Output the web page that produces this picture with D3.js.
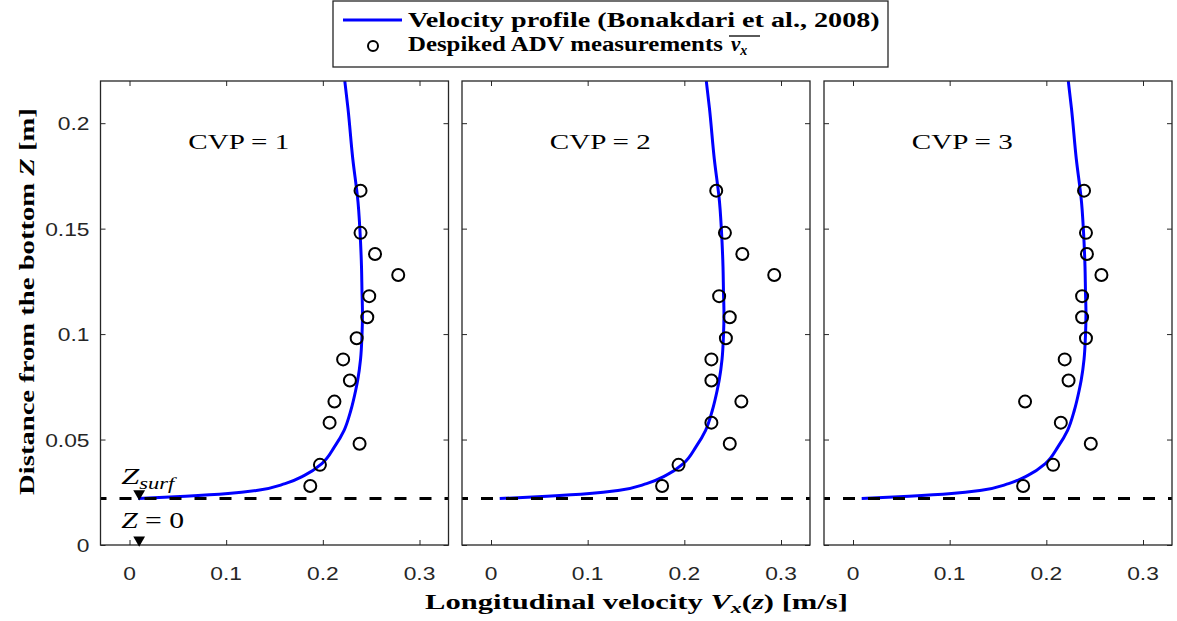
<!DOCTYPE html>
<html>
<head>
<meta charset="utf-8">
<script src="https://cdn.jsdelivr.net/npm/d3@7"></script>
<style>
  body { margin: 0; background: #fff; }
  .tick-lab { font-family: "Liberation Sans", Arial, sans-serif; font-size: 19px; fill: #262626; }
  .tex { font-family: "Liberation Serif", serif; fill: #000; }
</style>
</head>
<body>
<div id="chart"></div>
<script>
// Declare constants
const WIDTH = 1177;
const HEIGHT = 621;
const PANEL_LEFT = [100.5, 462, 824];
const PANEL_W = 348;
const PLOT_TOP = 81;
const PLOT_BOTTOM = 545;

// Data
const panelNames = ["CVP = 1", "CVP = 2", "CVP = 3"];
const zLevels = [0.168, 0.148, 0.138, 0.128, 0.118, 0.108, 0.098, 0.088, 0.078, 0.068, 0.058, 0.048, 0.038, 0.028];
const advCVP1 = [0.239, 0.239, 0.254, 0.278, 0.248, 0.246, 0.235, 0.221, 0.228, 0.212, 0.207, 0.238, 0.197, 0.187];
const advCVP2 = [0.233, 0.242, 0.260, 0.293, 0.236, 0.247, 0.243, 0.228, 0.228, 0.259, 0.228, 0.247, 0.194, 0.177];
const advCVP3 = [0.239, 0.241, 0.242, 0.257, 0.237, 0.237, 0.241, 0.219, 0.223, 0.178, 0.215, 0.246, 0.207, 0.176];
const advSeries = [advCVP1, advCVP2, advCVP3];

// Bonakdari et al. (2008) profile, same in the three panels
const profileV = [0.009, 0.058, 0.102, 0.133, 0.161, 0.181, 0.199, 0.212, 0.222, 0.229, 0.234, 0.236, 0.239, 0.2405, 0.241, 0.2405, 0.240, 0.239, 0.2364, 0.231, 0.226, 0.2227];
const profileZ = [0.022, 0.0231, 0.0244, 0.026, 0.0291, 0.033, 0.0386, 0.0465, 0.0544, 0.0639, 0.0734, 0.078, 0.088, 0.0994, 0.110, 0.120, 0.132, 0.1437, 0.1626, 0.183, 0.207, 0.22];

const zSurf = 0.022;
const markerV = 0.01;
const xTicks = [0, 0.1, 0.2, 0.3];
const yTicks = [0, 0.05, 0.1, 0.15, 0.2];
const xDomain = [-0.03, 0.33];
const yDomain = [0, 0.22];

const svg = d3.select("#chart").append("svg")
  .attr("width", WIDTH)
  .attr("height", HEIGHT);

svg.append("rect").attr("width", WIDTH).attr("height", HEIGHT).attr("fill", "#fff");

const y = d3.scaleLinear().domain(yDomain).range([PLOT_BOTTOM, PLOT_TOP]);

// squeeze/stretch a text horizontally to a width measured on the figure
function fitWidth(text, target) {
  const w = text.node().getComputedTextLength();
  return target / w;
}

PANEL_LEFT.forEach((left, i) => {
  const x = d3.scaleLinear().domain(xDomain).range([left, left + PANEL_W]);
  const g = svg.append("g");

  g.append("clipPath").attr("id", "clip" + i)
    .append("rect")
    .attr("x", left).attr("y", PLOT_TOP)
    .attr("width", PANEL_W).attr("height", PLOT_BOTTOM - PLOT_TOP);

  // axes, ticks pointing inward, mirrored on all sides
  const tickStyle = a => a.call(s => s.select(".domain").remove())
    .call(s => s.selectAll("line").attr("stroke", "#262626").attr("stroke-width", 1));
  g.append("g").attr("transform", `translate(0,${PLOT_BOTTOM})`)
    .call(d3.axisTop(x).tickValues(xTicks).tickSize(5).tickFormat("")).call(tickStyle);
  g.append("g").attr("transform", `translate(0,${PLOT_TOP})`)
    .call(d3.axisBottom(x).tickValues(xTicks).tickSize(5).tickFormat("")).call(tickStyle);
  g.append("g").attr("transform", `translate(${left},0)`)
    .call(d3.axisRight(y).tickValues(yTicks).tickSize(5).tickFormat("")).call(tickStyle);
  g.append("g").attr("transform", `translate(${left + PANEL_W},0)`)
    .call(d3.axisLeft(y).tickValues(yTicks).tickSize(5).tickFormat("")).call(tickStyle);

  // x tick labels
  g.selectAll(".xlab").data(xTicks).join("text")
    .attr("class", "tick-lab")
    .attr("text-anchor", "middle")
    .attr("transform", d => `translate(${x(d)},${PLOT_BOTTOM + 35}) scale(1.2,1)`)
    .text(d => d3.format("")(d));

  if (i === 0) {
    g.selectAll(".ylab").data(yTicks).join("text")
      .attr("class", "tick-lab")
      .attr("text-anchor", "end")
      .attr("transform", d => `translate(${left - 11},${y(d) + 7}) scale(1.2,1)`)
      .text(d => d3.format("")(d));
  }

  // velocity profile
  const line = d3.line().x((d, k) => x(profileV[k])).y(d => y(d)).curve(d3.curveMonotoneY);
  g.append("path")
    .attr("clip-path", `url(#clip${i})`)
    .attr("d", line(profileZ))
    .attr("fill", "none")
    .attr("stroke", "#0000ff")
    .attr("stroke-width", 3);

  // bed level
  g.append("line")
    .attr("x1", left).attr("x2", left + PANEL_W)
    .attr("y1", y(zSurf)).attr("y2", y(zSurf))
    .attr("stroke", "#000")
    .attr("stroke-width", 3)
    .attr("stroke-dasharray", "12,13")
    .attr("stroke-dashoffset", 6);

  // ADV points
  g.selectAll("circle").data(zLevels).join("circle")
    .attr("cx", (d, k) => x(advSeries[i][k]))
    .attr("cy", d => y(d))
    .attr("r", 6)
    .attr("fill", "none")
    .attr("stroke", "#000")
    .attr("stroke-width", 2);

  // panel name
  const t = g.append("text").attr("class", "tex")
    .attr("font-size", 21)
    .attr("text-anchor", "middle")
    .text(panelNames[i]);
  t.attr("transform", `translate(${x(0.113)},${y(0.1876)}) scale(${fitWidth(t, 101)},1)`);

  // frame
  g.append("rect")
    .attr("x", left).attr("y", PLOT_TOP)
    .attr("width", PANEL_W).attr("height", PLOT_BOTTOM - PLOT_TOP)
    .attr("fill", "none").attr("stroke", "#262626").attr("stroke-width", 1.3);

  if (i === 0) {
    const tri = d3.symbol().type(d3.symbolTriangle).size(60);
    [zSurf, 0].forEach(z => {
      g.append("path")
        .attr("d", tri())
        .attr("transform", `translate(${x(markerV)},${y(z) - 5}) rotate(180)`)
        .attr("fill", "#000");
    });
    const zs = g.append("text").attr("class", "tex").attr("font-size", 23).attr("font-style", "italic");
    zs.append("tspan").text("Z");
    zs.append("tspan").attr("font-size", 16).attr("dy", 5).text("surf");
    zs.attr("transform", `translate(${x(markerV) - 18},${y(zSurf) - 15}) scale(${fitWidth(zs, 53)},1)`);
    const z0 = g.append("text").attr("class", "tex").attr("font-size", 23);
    z0.append("tspan").attr("font-style", "italic").text("Z");
    z0.append("tspan").text(" = 0");
    z0.attr("transform", `translate(${x(markerV) - 18},${y(0) - 17}) scale(${fitWidth(z0, 63)},1)`);
  }
});

// y axis title
const yt = svg.append("text").attr("class", "tex")
  .attr("font-size", 21).attr("font-weight", "bold")
  .attr("text-anchor", "middle");
yt.append("tspan").text("Distance from the bottom ");
yt.append("tspan").attr("font-style", "italic").text("Z");
yt.append("tspan").text(" [m]");
yt.attr("transform", `translate(34,301.5) rotate(-90) scale(${fitWidth(yt, 387)},1)`);

// x axis title
const xt = svg.append("text").attr("class", "tex")
  .attr("font-size", 21).attr("font-weight", "bold")
  .attr("text-anchor", "middle");
xt.append("tspan").text("Longitudinal velocity ");
xt.append("tspan").attr("font-style", "italic").text("V");
xt.append("tspan").attr("font-style", "italic").attr("font-size", 15).attr("dy", 4).text("x");
xt.append("tspan").attr("dy", -4).text("(");
xt.append("tspan").attr("font-style", "italic").text("z");
xt.append("tspan").text(") [m/s]");
xt.attr("transform", `translate(636.5,609) scale(${fitWidth(xt, 423)},1)`);

// legend
const lg = svg.append("g");
lg.append("rect").attr("x", 333).attr("y", 1).attr("width", 555).attr("height", 66)
  .attr("fill", "#fff").attr("stroke", "#262626").attr("stroke-width", 1.3);
lg.append("line").attr("x1", 343).attr("x2", 402).attr("y1", 20).attr("y2", 20)
  .attr("stroke", "#0000ff").attr("stroke-width", 3);
lg.append("circle").attr("cx", 373).attr("cy", 46).attr("r", 5)
  .attr("fill", "none").attr("stroke", "#000").attr("stroke-width", 2);
const l1 = lg.append("text").attr("class", "tex").attr("font-size", 20).attr("font-weight", "bold")
  .text("Velocity profile (Bonakdari et al., 2008)");
l1.attr("transform", `translate(408,27) scale(${fitWidth(l1, 472)},1)`);
const l2 = lg.append("text").attr("class", "tex").attr("font-size", 20).attr("font-weight", "bold")
  .text("Despiked ADV measurements");
l2.attr("transform", `translate(408,51) scale(${fitWidth(l2, 315)},1)`);
const vx = lg.append("text").attr("class", "tex").attr("font-size", 21).attr("font-style", "italic")
  .attr("font-weight", "bold").attr("x", 731).attr("y", 51);
vx.append("tspan").text("v");
vx.append("tspan").attr("font-size", 14).attr("dy", 4).text("x");
lg.append("line").attr("x1", 729).attr("x2", 760).attr("y1", 36).attr("y2", 36)
  .attr("stroke", "#000").attr("stroke-width", 1.3);
</script>
</body>
</html>
